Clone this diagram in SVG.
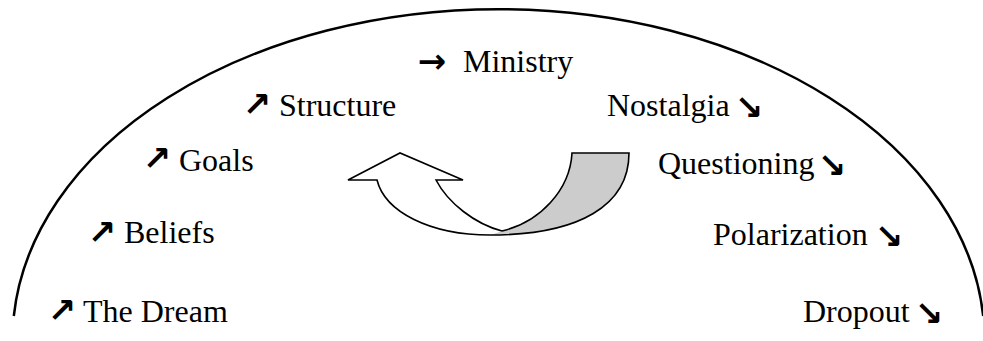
<svg xmlns="http://www.w3.org/2000/svg" width="983" height="341" viewBox="0 0 983 341">
<style>
.lbl{font-family:"Liberation Serif","Times New Roman",serif;font-size:32px;fill:#000}
.arw{font-family:"DejaVu Sans",sans-serif;font-weight:bold;font-size:34px;fill:#000;text-anchor:middle}
.edge{fill:none;stroke:#000;stroke-width:1.6;stroke-linejoin:miter}
</style>
<rect width="983" height="341" fill="#fff"/>
<g id="connectors">
<path id="dome" d="M 13.8 316 A 486 331 0 0 1 983.2 316" fill="none" stroke="#000" stroke-width="2.5"/>
<g id="cycle-arrow">
<path d="M 572 153 L 629 153 C 629 205 580 235 490 235 L 502 231 C 540 222 570 190 572 153 Z" fill="#cccccc"/>
<path d="M 377 180 L 348 180 L 400 153 L 463 180 L 436 180 C 448 203 475 224 502 231 L 490 235 C 430 235 385 212 377 180 Z" fill="#fff"/>
<path class="edge" d="M 502 231 C 540 222 570 190 572 153 L 629 153 C 629 205 580 235 490 235"/>
<path class="edge" d="M 502 231 C 475 224 448 203 436 180 L 463 180 L 400 153 L 348 180 L 377 180 C 385 212 430 235 490 235"/>
</g>
</g>
<g id="node-dream"><text class="arw" x="62" y="322">↗</text><text class="lbl" x="83" y="322">The Dream</text></g>
<g id="node-beliefs"><text class="arw" x="102" y="244">↗</text><text class="lbl" x="124" y="243">Beliefs</text></g>
<g id="node-goals"><text class="arw" x="157" y="170">↗</text><text class="lbl" x="179" y="171">Goals</text></g>
<g id="node-structure"><text class="arw" x="257" y="116">↗</text><text class="lbl" x="279" y="116">Structure</text></g>
<g id="node-ministry"><text class="arw" x="432" y="73">→</text><text class="lbl" x="463" y="72">Ministry</text></g>
<g id="node-nostalgia"><text class="lbl" x="607" y="116">Nostalgia</text><text class="arw" x="749" y="119">↘</text></g>
<g id="node-questioning"><text class="lbl" x="658" y="174">Questioning</text><text class="arw" x="832" y="177">↘</text></g>
<g id="node-polarization"><text class="lbl" x="713" y="245">Polarization</text><text class="arw" x="889" y="248">↘</text></g>
<g id="node-dropout"><text class="lbl" x="803" y="322">Dropout</text><text class="arw" x="929" y="325">↘</text></g>
</svg>
